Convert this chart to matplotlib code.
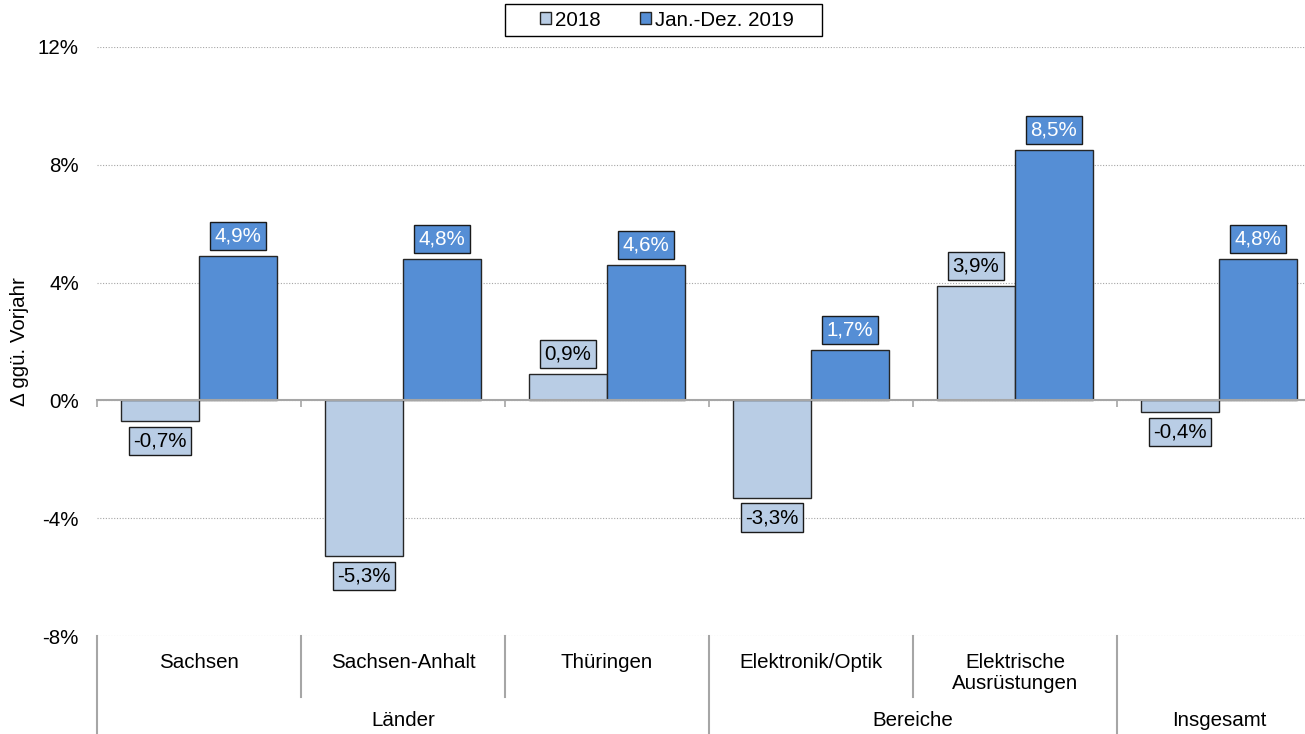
import matplotlib.pyplot as plt
import matplotlib.transforms as mtransforms
from matplotlib.patches import Patch, Rectangle

plt.rcParams['font.family'] = ['Liberation Sans', 'DejaVu Sans']

# Daten
kategorien = ['Sachsen', 'Sachsen-Anhalt', 'Thüringen', 'Elektronik/Optik',
              'Elektrische\nAusrüstungen', '']
gruppen = ['Länder', 'Bereiche', 'Insgesamt']
gruppen_spannen = [(0, 3), (3, 5), (5, 6)]   # welche Kategorien zu welcher Gruppe gehören
werte_2018 = [-0.7, -5.3, 0.9, -3.3, 3.9, -0.4]
werte_2019 = [4.9, 4.8, 4.6, 1.7, 8.5, 4.8]
serien = ['2018', 'Jan.-Dez. 2019']

hell = '#B9CDE5'
dunkel = '#558ED5'
grau = '#A6A6A6'
fs = 14.8

fig = plt.figure(figsize=(13.05, 7.34), dpi=100)
ax = fig.add_axes([97 / 1305, 1 - 636 / 734, 1224 / 1305, 589 / 734])

n = len(kategorien)
bw = 0.382
xs = [i + 0.5 for i in range(n)]

b1 = ax.bar([x - bw / 2 for x in xs], werte_2018, bw, color=hell, edgecolor='#262626', lw=1, zorder=3)
b2 = ax.bar([x + bw / 2 for x in xs], werte_2019, bw, color=dunkel, edgecolor='#262626', lw=1, zorder=3)


def beschriften(rects, werte, fc, tc):   # Wert-Kästchen über/unter den Balken
    for r, v in zip(rects, werte):
        txt = ('%.1f%%' % v).replace('.', ',')
        off = 7.5 if v >= 0 else -7.5
        ax.annotate(txt, xy=(r.get_x() + r.get_width() / 2, v), xytext=(0, off),
                    textcoords='offset points', ha='center',
                    va='bottom' if v >= 0 else 'top', fontsize=fs, color=tc, zorder=5,
                    bbox=dict(boxstyle='square,pad=0.22', fc=fc, ec='#1A1A1A', lw=1))


beschriften(b1, werte_2018, hell, 'black')
beschriften(b2, werte_2019, dunkel, 'white')

ax.set_xlim(0, n)
ax.set_ylim(-8, 12)
ax.set_yticks([-8, -4, 0, 4, 8, 12])
ax.set_yticklabels(['%d%%' % t for t in [-8, -4, 0, 4, 8, 12]], fontsize=fs)
ax.tick_params(axis='y', length=0, pad=13)
ax.grid(axis='y', linestyle=(0, (1, 1.5)), color=grau, lw=0.8, zorder=0)

for s in ['top', 'right', 'left']:
    ax.spines[s].set_visible(False)
ax.spines['bottom'].set_position(('data', 0))
ax.spines['bottom'].set_color(grau)
ax.spines['bottom'].set_linewidth(1.5)
ax.spines['bottom'].set_zorder(4)
ax.set_xticks(range(n + 1))
ax.set_xticklabels([])
ax.tick_params(axis='x', direction='out', length=5, width=1.2, color=grau)

ax.set_ylabel('Δ ggü. Vorjahr', fontsize=fs)
ax.yaxis.set_label_coords(-0.0556, 0.5)

# Kategorienachse unten (zwei Ebenen)
trans = mtransforms.blended_transform_factory(ax.transData, ax.transAxes)
kurz = -(697 - 636) / 589
lang = -(740 - 636) / 589
grenzen_voll = set()
for a, b in gruppen_spannen:
    grenzen_voll.add(a)
    grenzen_voll.add(b)
for i in range(n + 1):
    y_end = lang if i in grenzen_voll else kurz
    ax.plot([i, i], [0, y_end], transform=trans, color=grau, lw=1.5, clip_on=False)

for x, k in zip(xs, kategorien):
    ax.text(x, -(653 - 636) / 589, k, transform=trans, ha='center', va='top',
            fontsize=fs, linespacing=1.15)
for (a, b), g in zip(gruppen_spannen, gruppen):
    ax.text((a + b) / 2, -(721 - 636) / 589, g, transform=trans, ha='center',
            va='center', fontsize=fs)

# Legende: Rahmen separat, damit er so breit wie im Original ist
fig.patches.append(Rectangle((505 / 1305, 1 - 36 / 734), 317 / 1305, 32 / 734,
                             transform=fig.transFigure, fill=False, ec='black', lw=1))
handles = [Patch(fc=hell, ec='#262626', lw=1), Patch(fc=dunkel, ec='#262626', lw=1)]
leg = fig.legend(handles, serien, loc='center', bbox_to_anchor=(667 / 1305, 1 - 20 / 734),
                 ncol=2, fontsize=fs, frameon=False,
                 handlelength=0.55, handleheight=0.55, handletextpad=0.2,
                 columnspacing=1.9, borderpad=0.2, borderaxespad=0)

fig.savefig('out.png', dpi=100)
